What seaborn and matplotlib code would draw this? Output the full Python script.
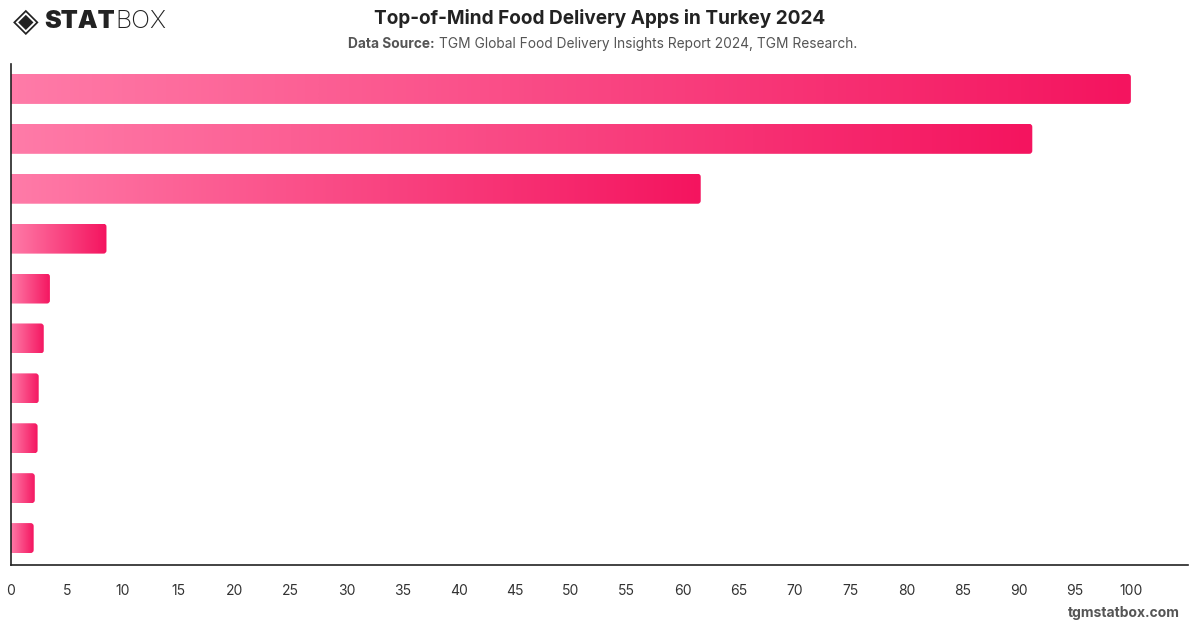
import numpy as np
import pandas as pd
import matplotlib
matplotlib.use('Agg')
import matplotlib.pyplot as plt
from matplotlib.colors import LinearSegmentedColormap
from matplotlib.patches import FancyBboxPatch
from matplotlib.transforms import IdentityTransform
import seaborn as sns

# Data
apps = ['Yemeksepeti', 'Getir', 'Trendyol Yemek', 'Migros Yemek', 'Banabi',
        'Uber Eats', 'Domino\'s', 'McDonald\'s', 'Burger King', 'Other']
share = [100, 91.2, 61.6, 8.55, 3.5, 2.95, 2.5, 2.4, 2.15, 2.05]
xticks = list(range(0, 101, 5))

df = pd.DataFrame({'app': apps, 'share': share})

sns.set_style('white')
plt.rcParams['font.family'] = ['Inter', 'DejaVu Sans']

W, H = 1200, 628
fig = plt.figure(figsize=(W / 100, H / 100), dpi=100)
ax = fig.add_axes([10.7 / W, 1 - 565 / H, (1188 - 10.7) / W, (565 - 64) / H])

sns.barplot(data=df, x='share', y='app', orient='h', width=0.6,
            color='#f5196a', ax=ax)

ax.set_xlim(0, 105.1)
ax.set_ylim(9.54, -0.5)
ax.set_xticks(xticks)
ax.set_xticklabels([str(t) for t in xticks], fontsize=10, color='#333333')
ax.tick_params(axis='x', length=0, pad=14)
ax.set_yticks([])
ax.set_xlabel('')
ax.set_ylabel('')
for s in ['top', 'right']:
    ax.spines[s].set_visible(False)
for s in ['left', 'bottom']:
    ax.spines[s].set_color('#222222')
    ax.spines[s].set_linewidth(1.2)

# gradient fill with rounded right corners
cmap = LinearSegmentedColormap.from_list('pinkgrad', ['#ff7ba8', '#f4145f'])
grad = np.linspace(0, 1, 256).reshape(1, -1)
for p in list(ax.patches):
    x0, y0 = p.get_x(), p.get_y()
    w, h = p.get_width(), p.get_height()
    p.set_visible(False)
    im = ax.imshow(grad, cmap=cmap, aspect='auto', interpolation='bicubic',
                   extent=(x0, x0 + w, y0 + h, y0), zorder=2)
    (px0, py0) = ax.transData.transform((x0, y0 + h))
    (px1, py1) = ax.transData.transform((x0 + w, y0))
    clip = FancyBboxPatch((px0 - 5, py0), (px1 - px0) + 5, py1 - py0,
                          boxstyle='round,pad=0,rounding_size=3',
                          transform=IdentityTransform())
    im.set_clip_path(clip)

ax.set_xlim(0, 105.1)
ax.set_ylim(9.54, -0.5)

# header
fig.text(0.5, 1 - 18 / H, 'Top-of-Mind Food Delivery Apps in Turkey 2024',
         ha='center', va='center', fontsize=13.7, fontweight='bold', color='#222222')
fig.text(435 / W, 1 - 44 / H, 'Data Source:', ha='right', va='center',
         fontsize=9.9, fontweight='bold', color='#555555')
fig.text(439 / W, 1 - 44 / H,
         'TGM Global Food Delivery Insights Report 2024, TGM Research.',
         ha='left', va='center', fontsize=9.9, color='#555555')

# logo
fig.text(13 / W, 1 - 21 / H, '◈', ha='left', va='center', fontsize=24,
         color='#222222', family='DejaVu Sans')
stat = fig.text(44 / W, 1 - 21 / H, 'STAT', ha='left', va='center', fontsize=18,
                fontweight='black', color='#222222')
fig.canvas.draw()
sb = stat.get_window_extent()
fig.text((sb.x1 + 1) / W, 1 - 21 / H, 'BOX', ha='left', va='center', fontsize=18,
         fontweight='light', color='#222222')

# footer
fig.text(1180 / W, 1 - 613 / H, 'tgmstatbox.com', ha='right', va='center',
         fontsize=10, fontweight='bold', color='#555555')

fig.savefig('out.png', dpi=100)
